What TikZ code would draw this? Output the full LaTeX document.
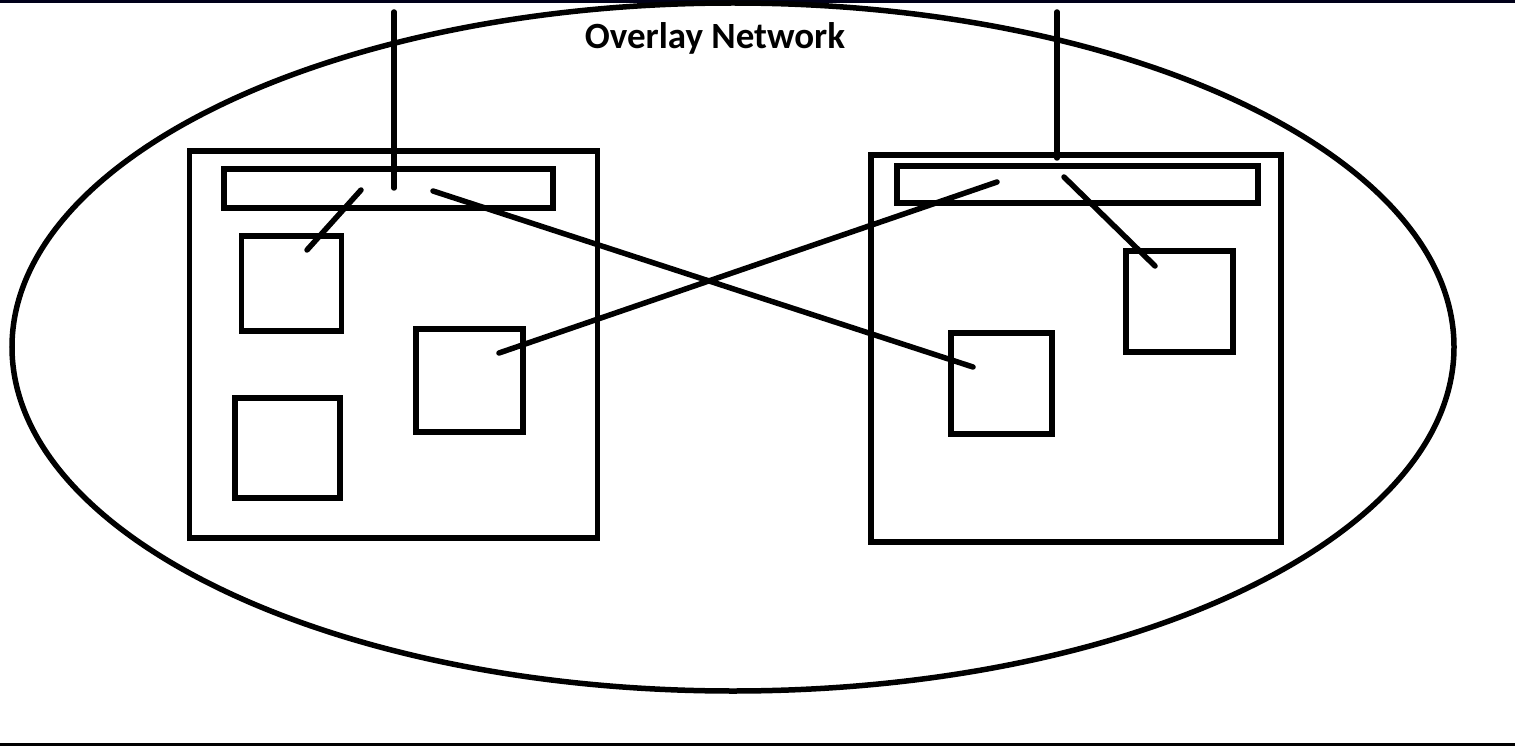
\documentclass[tikz,border=0pt]{standalone}
\usepackage{fontspec}
\setmainfont{Carlito}
\usetikzlibrary{positioning}

\tikzset{
    box/.style = {draw, line width=5.5pt, inner sep=0pt, outer sep=0pt, anchor=north west},
    wire/.style = {line width=5.5pt, line cap=round},
}

\begin{document}
\begin{tikzpicture}[x=1pt, y=-1pt]

    \useasboundingbox (0,0) rectangle (1515,746);
    \fill[black!90!blue] (0,0) rectangle (1515,3);
    \fill[black] (0,743) rectangle (1515,746);

    \draw [line width=5.5pt] (733,347) ellipse (721 and 344);
    \node[font=\bfseries\fontsize{37}{42}\selectfont] (title) at (715,38) {Overlay Network};

    % left host
    \node[box, minimum width=408pt, minimum height=387pt] (hostA) at (189.5,151) {};
    \node[box, minimum width=329pt, minimum height=39pt] (barA) at (224,169) {};
    \node[box, minimum width=100pt, minimum height=95pt] (a1) at (241.5,236) {};
    \node[box, minimum width=105pt, minimum height=100pt] (a2) at (235,398) {};
    \node[box, minimum width=107pt, minimum height=103pt] (a3) at (416,329) {};

    % right host
    \node[box, minimum width=410pt, minimum height=387pt] (hostB) at (871,155) {};
    \node[box, minimum width=361pt, minimum height=37pt] (barB) at (897,166) {};
    \node[box, minimum width=107pt, minimum height=101pt] (b1) at (1126,251) {};
    \node[box, minimum width=101pt, minimum height=101pt] (b2) at (951,333) {};

    % wire ends
    \coordinate (upA) at (394,12);
    \coordinate (inA) at (394,188);
    \coordinate (upB) at (1057,12);
    \coordinate (inB) at (1057,158);
    \coordinate (pA1) at (361,190);
    \coordinate (qA1) at (307,250);
    \coordinate (pA2) at (433,191);
    \coordinate (qB2) at (973,367);
    \coordinate (pB1) at (997,182);
    \coordinate (qA3) at (499,353);
    \coordinate (pB2) at (1064,177);
    \coordinate (qB1) at (1155,266);

    \draw[wire] (upA) -- (inA);
    \draw[wire] (upB) -- (inB);
    \draw[wire] (pA1) -- (qA1);
    \draw[wire] (pA2) -- (qB2);
    \draw[wire] (pB1) -- (qA3);
    \draw[wire] (pB2) -- (qB1);

\end{tikzpicture}
\end{document}
